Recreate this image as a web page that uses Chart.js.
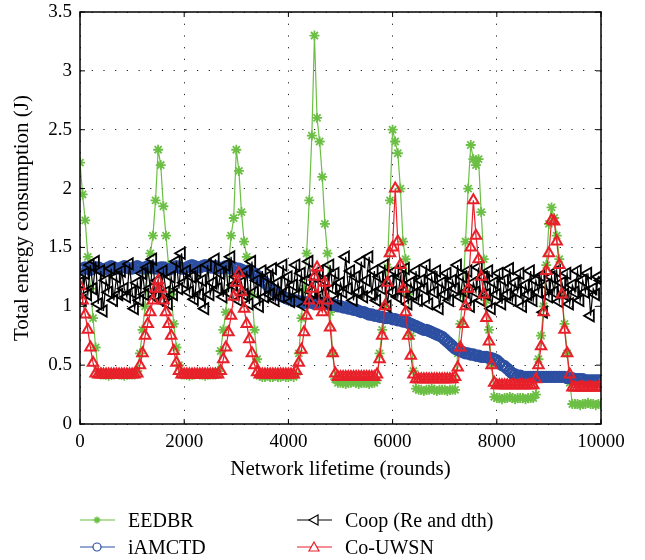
<!DOCTYPE html>
<html lang="en">
<head>
    <meta charset="UTF-8">
    <title>Total energy consumption</title>
    <script src="https://cdn.jsdelivr.net/npm/chart.js@4.4.1/dist/chart.umd.min.js"></script>
    <style>
        body { margin: 0; background: #fff; }
        #wrap { position: relative; width: 645px; height: 560px; }
        #energyChart { position: absolute; left: 0; top: 0; }
        #legend { position: absolute; left: 0; top: 0; }
    </style>
</head>
<body>
<div id="wrap">
    <canvas id="energyChart" width="645" height="560"></canvas>
    <svg id="legend" width="645" height="560"></svg>
</div>
<script>
// sample rounds, every 50 rounds from 0 to 10000
const rounds = Array.from({ length: 201 }, (_, i) => i * 50);

const seriesNames = ['EEDBR', 'iAMCTD', 'Coop (Re and dth)', 'Co-UWSN'];

const eedbr = [
    2.22, 1.95, 1.73, 1.42, 1.15, 0.90, 0.65, 0.45, 0.42, 0.42,
    0.42, 0.41, 0.42, 0.42, 0.43, 0.42, 0.42, 0.41, 0.42, 0.42,
    0.42, 0.42, 0.45, 0.60, 0.80, 1.00, 1.30, 1.45, 1.60, 1.90,
    2.33, 2.20, 1.85, 1.60, 1.35, 1.10, 0.85, 0.65, 0.50, 0.42,
    0.42, 0.42, 0.41, 0.42, 0.42, 0.43, 0.42, 0.42, 0.41, 0.42,
    0.42, 0.42, 0.42, 0.45, 0.62, 0.80, 0.95, 1.35, 1.60, 1.75,
    2.33, 2.15, 1.80, 1.55, 1.42, 1.28, 1.10, 0.80, 0.55, 0.41,
    0.40, 0.40, 0.41, 0.40, 0.40, 0.41, 0.40, 0.40, 0.41, 0.40,
    0.40, 0.41, 0.40, 0.42, 0.60, 0.90, 1.15, 1.45, 1.90, 2.45,
    3.30, 2.60, 2.40, 2.10, 1.70, 1.45, 0.95, 0.60, 0.38, 0.35,
    0.35, 0.35, 0.34, 0.35, 0.35, 0.36, 0.35, 0.34, 0.35, 0.35,
    0.35, 0.34, 0.35, 0.35, 0.37, 0.60, 0.80, 1.00, 1.33, 1.90,
    2.50, 2.40, 2.30, 2.00, 1.55, 1.40, 1.10, 0.75, 0.45, 0.30,
    0.29, 0.29, 0.28, 0.29, 0.29, 0.30, 0.29, 0.28, 0.29, 0.29,
    0.29, 0.28, 0.29, 0.29, 0.29, 0.60, 0.85, 1.10, 1.55, 2.00,
    2.37, 2.25, 2.20, 2.25, 1.80, 1.40, 1.05, 0.80, 0.50, 0.23,
    0.22, 0.22, 0.21, 0.22, 0.22, 0.23, 0.22, 0.21, 0.22, 0.22,
    0.22, 0.21, 0.22, 0.22, 0.22, 0.25, 0.55, 0.75, 1.00, 1.35,
    1.70, 1.84, 1.75, 1.60, 1.40, 1.10, 0.85, 0.60, 0.35, 0.17,
    0.17, 0.17, 0.16, 0.17, 0.17, 0.18, 0.17, 0.17, 0.16, 0.17,
    0.17
];

const iamctd = [
    1.31, 1.32, 1.33, 1.32, 1.31, 1.32, 1.33, 1.33, 1.32, 1.31,
    1.32, 1.33, 1.34, 1.33, 1.32, 1.32, 1.33, 1.34, 1.33, 1.32,
    1.32, 1.33, 1.34, 1.33, 1.32, 1.33, 1.34, 1.34, 1.33, 1.32,
    1.32, 1.33, 1.33, 1.32, 1.31, 1.32, 1.33, 1.34, 1.33, 1.32,
    1.32, 1.33, 1.34, 1.35, 1.34, 1.33, 1.33, 1.34, 1.35, 1.34,
    1.33, 1.33, 1.34, 1.33, 1.32, 1.33, 1.34, 1.33, 1.32, 1.33,
    1.32, 1.32, 1.31, 1.30, 1.30, 1.29, 1.28, 1.28, 1.26, 1.24,
    1.22, 1.20, 1.18, 1.16, 1.14, 1.12, 1.10, 1.09, 1.08, 1.07,
    1.06, 1.06, 1.05, 1.05, 1.04, 1.04, 1.03, 1.03, 1.04, 1.03,
    1.02, 1.03, 1.02, 1.02, 1.03, 1.02, 1.01, 1.02, 1.01, 1.00,
    1.00, 0.99, 0.99, 0.98, 0.98, 0.97, 0.97, 0.96, 0.95, 0.95,
    0.94, 0.93, 0.93, 0.92, 0.92, 0.91, 0.91, 0.90, 0.90, 0.90,
    0.89, 0.89, 0.88, 0.88, 0.87, 0.87, 0.86, 0.85, 0.84, 0.83,
    0.82, 0.81, 0.80, 0.80, 0.79, 0.78, 0.77, 0.76, 0.75, 0.74,
    0.72, 0.70, 0.68, 0.66, 0.64, 0.63, 0.62, 0.61, 0.60, 0.60,
    0.59, 0.59, 0.58, 0.58, 0.57, 0.57, 0.57, 0.56, 0.56, 0.55,
    0.54, 0.52, 0.50, 0.49, 0.47, 0.45, 0.43, 0.42, 0.41, 0.41,
    0.40, 0.40, 0.40, 0.40, 0.40, 0.40, 0.40, 0.40, 0.40, 0.40,
    0.40, 0.40, 0.40, 0.40, 0.40, 0.40, 0.40, 0.39, 0.39, 0.39,
    0.38, 0.38, 0.38, 0.38, 0.37, 0.37, 0.37, 0.37, 0.37, 0.37,
    0.37
];

const coop = [
    1.20, 1.05, 1.28, 1.10, 1.35, 1.15, 1.38, 1.02, 1.30, 0.96,
    1.22, 1.12, 1.32, 1.05, 1.25, 1.10, 1.30, 1.15, 1.08, 1.36,
    1.12, 0.98, 1.20, 1.05, 1.28, 1.10, 1.33, 1.15, 1.40, 1.08,
    1.22, 1.05, 1.30, 1.12, 1.02, 1.25, 1.10, 1.38, 1.15, 1.45,
    1.20, 1.30, 1.12, 1.25, 1.06, 1.30, 1.10, 1.22, 0.98, 1.35,
    1.10, 1.20, 1.40, 1.15, 1.28, 1.08, 1.35, 1.12, 1.42, 1.18,
    1.25, 1.05, 1.20, 1.10, 1.30, 1.02, 1.38, 1.12, 1.22, 1.00,
    1.30, 1.08, 1.25, 1.10, 1.32, 1.05, 1.20, 1.08, 1.35, 1.12,
    1.25, 1.04, 1.18, 1.35, 1.10, 1.28, 1.00, 1.22, 1.38, 1.12,
    1.25, 1.05, 1.30, 1.10, 1.22, 1.02, 1.35, 1.15, 1.28, 1.06,
    1.20, 1.12, 1.42, 1.15, 1.30, 1.05, 1.25, 1.12, 1.38, 1.08,
    1.22, 1.42, 1.10, 1.30, 1.05, 1.25, 1.15, 1.35, 1.00, 1.22,
    1.12, 1.30, 1.08, 1.25, 1.12, 1.32, 1.02, 1.20, 1.10, 1.30,
    1.05, 1.22, 1.15, 1.35, 1.02, 1.25, 1.12, 1.30, 0.98, 1.20,
    1.10, 1.28, 1.05, 1.22, 1.15, 1.35, 1.08, 1.25, 1.12, 1.30,
    1.00, 1.20, 1.12, 1.33, 1.05, 1.25, 1.10, 1.30, 0.98, 1.20,
    1.10, 1.28, 1.02, 1.22, 1.10, 1.32, 1.05, 1.20, 1.12, 1.28,
    1.00, 1.18, 1.10, 1.30, 1.05, 1.22, 1.12, 1.26, 0.95, 1.18,
    1.08, 1.25, 1.12, 1.30, 1.04, 1.20, 1.10, 1.28, 1.02, 1.18,
    1.12, 1.30, 1.05, 1.22, 1.12, 1.28, 0.92, 1.15, 1.10, 1.25,
    1.22
];

const couwsn = [
    1.17, 1.05, 0.93, 0.80, 0.65, 0.52, 0.43, 0.42, 0.42, 0.42,
    0.42, 0.42, 0.42, 0.42, 0.42, 0.42, 0.42, 0.42, 0.42, 0.42,
    0.42, 0.42, 0.43, 0.50, 0.60, 0.75, 0.85, 0.95, 1.05, 1.15,
    1.22, 1.15, 1.05, 0.95, 0.85, 0.75, 0.62, 0.52, 0.45, 0.42,
    0.42, 0.42, 0.42, 0.42, 0.42, 0.42, 0.42, 0.42, 0.42, 0.42,
    0.42, 0.42, 0.42, 0.42, 0.45, 0.55, 0.65, 0.78, 0.92, 1.08,
    1.20, 1.28, 1.12, 0.98, 0.85, 0.72, 0.60, 0.50, 0.44, 0.42,
    0.42, 0.42, 0.42, 0.42, 0.42, 0.42, 0.42, 0.42, 0.42, 0.42,
    0.42, 0.42, 0.42, 0.45, 0.52, 0.63, 0.78, 0.92, 1.05, 1.15,
    1.25, 1.33, 1.00, 0.95, 1.20, 1.05, 0.82, 0.60, 0.43, 0.40,
    0.40, 0.40, 0.40, 0.40, 0.40, 0.40, 0.40, 0.40, 0.40, 0.40,
    0.40, 0.40, 0.40, 0.40, 0.42, 0.55, 0.75, 1.00, 1.20, 1.45,
    1.50, 2.00, 1.55, 1.35, 1.15, 0.95, 0.75, 0.58, 0.42, 0.38,
    0.38, 0.38, 0.38, 0.38, 0.38, 0.38, 0.38, 0.38, 0.38, 0.38,
    0.38, 0.38, 0.38, 0.38, 0.40, 0.48, 0.65, 0.85, 1.00, 1.15,
    1.50, 1.90, 1.60, 1.40, 1.25, 1.10, 0.90, 0.70, 0.50, 0.35,
    0.33, 0.33, 0.33, 0.33, 0.33, 0.33, 0.33, 0.33, 0.33, 0.33,
    0.33, 0.33, 0.33, 0.33, 0.33, 0.38, 0.50, 0.66, 0.95, 1.30,
    1.45, 1.73, 1.72, 1.55, 1.35, 1.10, 0.80, 0.60, 0.42, 0.31,
    0.31, 0.31, 0.31, 0.31, 0.31, 0.31, 0.31, 0.31, 0.31, 0.31,
    0.31
];

const xTicks = [0, 2000, 4000, 6000, 8000, 10000];
const yTicks = [0, 0.5, 1, 1.5, 2, 2.5, 3, 3.5];

const GREEN = '#6cbf45';
const BLUE = '#2d4fa2';
const BLACK = '#000000';
const RED = '#e8202a';
const FONT = '"Liberation Serif", "Times New Roman", serif';

function points(values) {
    return values.map((v, i) => ({ x: rounds[i], y: v }));
}

// box around the plot with short inward ticks on every side
const boxPlugin = {
    id: 'box',
    afterDatasetsDraw(chart) {
        const { ctx, chartArea: a, scales } = chart;
        ctx.save();
        ctx.strokeStyle = '#000';
        ctx.lineWidth = 1.5;
        ctx.strokeRect(a.left, a.top, a.right - a.left, a.bottom - a.top);
        ctx.lineWidth = 1;
        ctx.beginPath();
        xTicks.forEach(t => {
            const x = scales.x.getPixelForValue(t);
            ctx.moveTo(x, a.bottom); ctx.lineTo(x, a.bottom - 5);
            ctx.moveTo(x, a.top); ctx.lineTo(x, a.top + 5);
        });
        yTicks.forEach(t => {
            const y = scales.y.getPixelForValue(t);
            ctx.moveTo(a.left, y); ctx.lineTo(a.left + 5, y);
            ctx.moveTo(a.right, y); ctx.lineTo(a.right - 5, y);
        });
        ctx.stroke();
        ctx.restore();
    }
};

const ctx = document.getElementById('energyChart').getContext('2d');
new Chart(ctx, {
    type: 'line',
    data: {
        datasets: [
            {
                label: seriesNames[0], data: points(eedbr), order: 4,
                borderColor: GREEN, borderWidth: 1.2, pointStyle: 'star',
                pointRadius: 5, pointBorderColor: GREEN, pointBorderWidth: 1.8,
                pointBackgroundColor: GREEN
            },
            {
                label: seriesNames[1], data: points(iamctd), order: 3,
                borderColor: BLUE, borderWidth: 1.2, pointStyle: 'circle',
                pointRadius: 5, pointBorderColor: BLUE, pointBorderWidth: 2.4,
                pointBackgroundColor: 'rgba(255,255,255,0)'
            },
            {
                label: seriesNames[2], data: points(coop), order: 2,
                borderColor: BLACK, borderWidth: 1.2, pointStyle: 'triangle',
                pointRotation: -90, pointRadius: 6.5, pointBorderColor: BLACK,
                pointBorderWidth: 1.8, pointBackgroundColor: 'rgba(255,255,255,0)'
            },
            {
                label: seriesNames[3], data: points(couwsn), order: 1,
                borderColor: RED, borderWidth: 1.2, pointStyle: 'triangle',
                pointRadius: 6, pointBorderColor: RED, pointBorderWidth: 2,
                pointBackgroundColor: 'rgba(255,255,255,0)'
            }
        ]
    },
    options: {
        responsive: false,
        animation: false,
        elements: { line: { tension: 0 } },
        layout: { padding: { top: 12, right: 44, bottom: 74, left: 10 } },
        plugins: { legend: { display: false }, tooltip: { enabled: false } },
        scales: {
            x: {
                type: 'linear', min: 0, max: 10000,
                afterBuildTicks: s => { s.ticks = xTicks.map(v => ({ value: v })); },
                afterFit: s => { s.height = 62; s.paddingLeft = 0; s.paddingRight = 0; },
                grid: { color: '#222', lineWidth: 1, drawTicks: false },
                border: { display: false, dash: [1.2, 10.5] },
                ticks: {
                    color: '#000', padding: 7, font: { family: FONT, size: 19 },
                    callback: v => String(v)
                },
                title: {
                    display: true, text: 'Network lifetime (rounds)', color: '#000',
                    font: { family: FONT, size: 21 }, padding: { top: 0, bottom: 4 }
                }
            },
            y: {
                min: 0, max: 3.5,
                afterBuildTicks: s => { s.ticks = yTicks.map(v => ({ value: v })); },
                afterFit: s => { s.width = 70; s.paddingTop = 0; s.paddingBottom = 0; },
                grid: { color: '#222', lineWidth: 1, drawTicks: false },
                border: { display: false, dash: [1.2, 10.5] },
                ticks: {
                    color: '#000', padding: 8, font: { family: FONT, size: 19 },
                    callback: v => String(v)
                },
                title: {
                    display: true, text: 'Total energy consumption (J)', color: '#000',
                    font: { family: FONT, size: 21 }, padding: { top: 0, bottom: 0 }
                }
            }
        }
    },
    plugins: [boxPlugin]
});

// legend below the plot: short line with the marker, then the name
const legendItems = [
    { name: seriesNames[0], color: GREEN, marker: 'star', x: 80, y: 520 },
    { name: seriesNames[1], color: BLUE, marker: 'circle', x: 80, y: 547 },
    { name: seriesNames[2], color: BLACK, marker: 'left', x: 297, y: 520 },
    { name: seriesNames[3], color: RED, marker: 'up', x: 297, y: 547 }
];
const svg = document.getElementById('legend');
const NS = 'http://www.w3.org/2000/svg';
function el(tag, attrs) {
    const e = document.createElementNS(NS, tag);
    for (const k in attrs) e.setAttribute(k, attrs[k]);
    svg.appendChild(e);
    return e;
}
legendItems.forEach(it => {
    const cx = it.x + 17, cy = it.y;
    el('line', { x1: it.x, y1: cy, x2: it.x + 35, y2: cy, stroke: it.color, 'stroke-width': 1.2 });
    if (it.marker === 'star') {
        const r = 3.5;
        el('path', {
            d: `M${cx - r},${cy}H${cx + r}M${cx},${cy - r}V${cy + r}` +
               `M${cx - r * 0.7},${cy - r * 0.7}L${cx + r * 0.7},${cy + r * 0.7}` +
               `M${cx - r * 0.7},${cy + r * 0.7}L${cx + r * 0.7},${cy - r * 0.7}`,
            stroke: it.color, 'stroke-width': 1.4, fill: 'none'
        });
    } else if (it.marker === 'circle') {
        el('circle', { cx, cy, r: 4, stroke: it.color, 'stroke-width': 1.2, fill: '#fff' });
    } else if (it.marker === 'left') {
        el('path', { d: `M${cx - 5},${cy}L${cx + 4},${cy - 5}L${cx + 4},${cy + 5}Z`, stroke: it.color, 'stroke-width': 1.2, fill: '#fff' });
    } else {
        el('path', { d: `M${cx},${cy - 5}L${cx + 5},${cy + 4}L${cx - 5},${cy + 4}Z`, stroke: it.color, 'stroke-width': 1.2, fill: '#fff' });
    }
    const t = el('text', {
        x: it.x + 48, y: cy + 7, fill: '#000',
        'font-family': 'Liberation Serif, serif', 'font-size': 20
    });
    t.textContent = it.name;
});
</script>
</body>
</html>
